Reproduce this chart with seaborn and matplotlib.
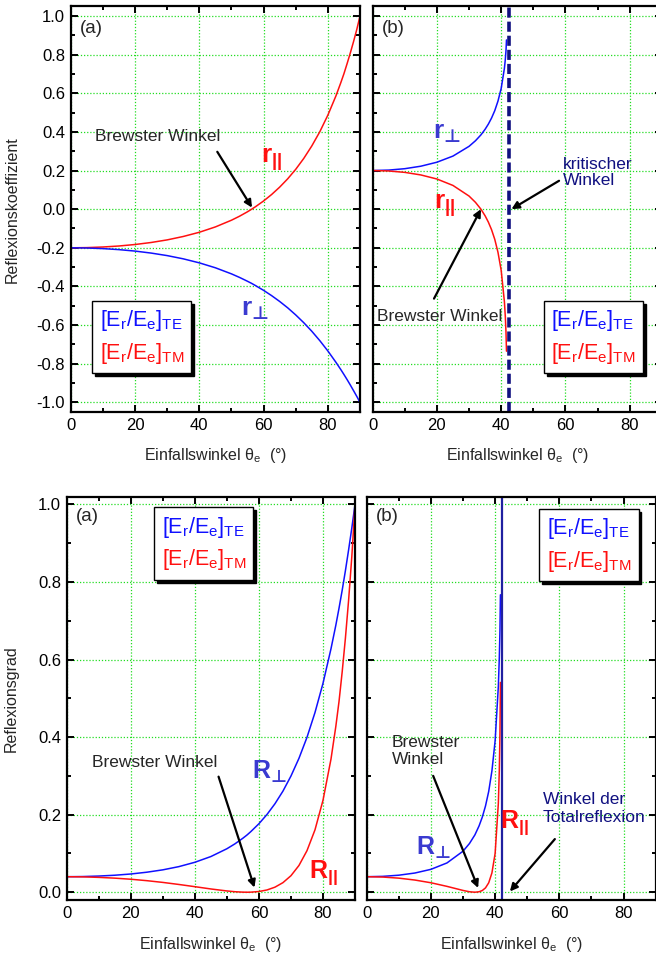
import matplotlib
matplotlib.use('Agg')
import matplotlib.pyplot as plt
import seaborn as sns
from matplotlib.lines import Line2D
from matplotlib.ticker import MultipleLocator, FuncFormatter

# Angles (deg) and values
# (a) external reflection, (b) internal reflection
ang_a = [0, 5, 10, 15, 20, 25, 30, 35, 40, 45, 50, 52.5, 55, 56.3, 57.5, 60, 62.5, 65, 67.5,
         70, 72.5, 75, 77.5, 80, 82.5, 84, 85, 86, 87, 88, 89, 90]
r_perp_a = [-0.2, -0.201, -0.2041, -0.2094, -0.2169, -0.2272, -0.2403, -0.2570, -0.2778, -0.3033,
            -0.3348, -0.3531, -0.3732, -0.3843, -0.3956, -0.4202, -0.4475, -0.4776, -0.5106,
            -0.5474, -0.5876, -0.6319, -0.6807, -0.7339, -0.7924, -0.8296, -0.8557, -0.8826,
            -0.9106, -0.9397, -0.9692, -1.0]
r_par_a = [-0.2, -0.199, -0.1958, -0.1906, -0.1829, -0.1725, -0.1590, -0.1414, -0.1196, -0.0919,
           -0.0572, -0.0366, -0.0134, 0.0, 0.0129, 0.0424, 0.0759, 0.1140, 0.1571,
           0.2063, 0.2627, 0.3272, 0.4010, 0.4868, 0.5860, 0.6536, 0.7012, 0.7543,
           0.8095, 0.8680, 0.9304, 1.0]
R_perp_a = [0.04, 0.0404, 0.0417, 0.0438, 0.0470, 0.0516, 0.0577, 0.0660, 0.0772, 0.0920,
            0.1121, 0.1247, 0.1393, 0.1477, 0.1565, 0.1766, 0.2003, 0.2281, 0.2607,
            0.2996, 0.3453, 0.3993, 0.4633, 0.5386, 0.6279, 0.6882, 0.7322, 0.7790,
            0.8292, 0.8830, 0.9393, 1.0]
R_par_a = [0.04, 0.0396, 0.0383, 0.0363, 0.0335, 0.0298, 0.0253, 0.0200, 0.0143, 0.0084,
           0.0033, 0.0013, 0.0002, 0.0, 0.0002, 0.0018, 0.0058, 0.0130, 0.0247,
           0.0426, 0.0690, 0.1071, 0.1608, 0.2370, 0.3434, 0.4272, 0.4917, 0.5690,
           0.6553, 0.7534, 0.8656, 1.0]

ang_b = [0, 5, 10, 15, 20, 25, 30, 32, 33.7, 35, 36, 37, 38, 39, 40, 41, 41.3, 41.5, 41.65]
r_perp_b = [0.2, 0.2023, 0.2095, 0.2224, 0.2430, 0.2748, 0.3252, 0.3542, 0.3846, 0.4136, 0.4401,
            0.4716, 0.5099, 0.5594, 0.6250, 0.7286, 0.7775, 0.8216, 0.876]
r_par_b = [0.2, 0.1977, 0.1905, 0.1772, 0.1562, 0.1228, 0.0679, 0.0353, 0.0, -0.0344, -0.0667,
           -0.1060, -0.1559, -0.2231, -0.3166, -0.4787, -0.5606, -0.6394, -0.735]
R_perp_b = [0.04, 0.0409, 0.0439, 0.0495, 0.0590, 0.0755, 0.1058, 0.1255, 0.1479, 0.1711, 0.1937,
            0.2224, 0.2600, 0.3129, 0.3906, 0.5309, 0.6045, 0.6750, 0.767]
R_par_b = [0.04, 0.0391, 0.0363, 0.0314, 0.0244, 0.0151, 0.0046, 0.0012, 0.0, 0.0012, 0.0044,
           0.0112, 0.0243, 0.0498, 0.1002, 0.2292, 0.3143, 0.4088, 0.541]

crit_top = 42.4   # kritischer Winkel (dashed line)
crit_bot = 42.2   # Winkel der Totalreflexion (solid line)

sns.set_style('ticks')
plt.rcParams['font.family'] = ['Liberation Sans', 'DejaVu Sans']
plt.rcParams['mathtext.fontset'] = 'custom'
plt.rcParams['mathtext.rm'] = 'Liberation Sans'
plt.rcParams['mathtext.it'] = 'Liberation Sans:italic'
plt.rcParams['mathtext.bf'] = 'Liberation Sans:bold'
plt.rcParams['mathtext.sf'] = 'DejaVu Sans:bold'
plt.rcParams['axes.unicode_minus'] = False

BLUE = '#1010ff'
RED = '#ff1010'
LBLUE = '#3a3ad0'
NAVY = '#101080'
GRID = '#22dd22'
XLABEL = r'Einfallswinkel $\mathrm{\theta_e}$  (°)'
TE = r'$\mathrm{[E_r/E_e]_{TE}}$'
TM = r'$\mathrm{[E_r/E_e]_{TM}}$'
R_PAR = r'$\mathbf{R}_{\mathbf{||}}$'
R_PERP = r'$\mathbf{R}_{\mathsf{⊥}}$'
r_PAR = r'$\mathbf{r}_{\mathbf{||}}$'
r_PERP = r'$\mathbf{r}_{\mathsf{⊥}}$'
ANN = 12.5


def style_axes(ax, ylim, ylabels=True):
    ax.set_xlim(0, 90)
    ax.set_ylim(*ylim)
    ax.xaxis.set_major_locator(MultipleLocator(20))
    ax.xaxis.set_minor_locator(MultipleLocator(10))
    ax.yaxis.set_major_locator(MultipleLocator(0.2))
    ax.yaxis.set_minor_locator(MultipleLocator(0.1))
    ax.yaxis.set_major_formatter(FuncFormatter(lambda v, p: '0.0' if abs(v) < 1e-9 else f'{v:.1f}'))
    ax.tick_params(which='both', direction='in', top=True, right=True, width=1.4,
                   labelsize=12, colors='black', pad=4)
    ax.tick_params(which='major', length=5)
    ax.tick_params(which='minor', length=3)
    if not ylabels:
        ax.tick_params(labelleft=False)
    ax.grid(True, which='major', color=GRID, ls=(0, (1, 1.5)), lw=0.9)
    ax.set_axisbelow(True)
    for s in ax.spines.values():
        s.set_linewidth(1.6)
        s.set_color('black')
        s.set_visible(True)


def te_tm_legend(ax, x, y):
    handles = [Line2D([], [], lw=0), Line2D([], [], lw=0)]
    leg = ax.legend(handles, [TE, TM], loc='upper left', bbox_to_anchor=(x, y),
                    borderaxespad=0, handlelength=0, handletextpad=0, fontsize=15.5,
                    frameon=True, fancybox=False, edgecolor='black', framealpha=1,
                    shadow={'color': 'black', 'alpha': 1}, labelcolor=[BLUE, RED],
                    borderpad=0.35, labelspacing=0.35)
    leg.get_frame().set_linewidth(1.0)


def arrow(ax, tail, head):
    ax.annotate('', xy=head, xytext=tail,
                arrowprops=dict(arrowstyle='-|>', color='black', lw=1.6,
                                mutation_scale=11, shrinkA=0, shrinkB=0))


fig = plt.figure(figsize=(6.56, 9.56), dpi=100)
ax1 = fig.add_axes([0.1078, 0.569, 0.441, 0.4244])
ax2 = fig.add_axes([0.568, 0.569, 0.441, 0.4244])
ax3 = fig.add_axes([0.1017, 0.0586, 0.4395, 0.4219])
ax4 = fig.add_axes([0.559, 0.0586, 0.4405, 0.4219])

# (a) Reflexionskoeffizient, external
sns.lineplot(x=ang_a, y=r_par_a, ax=ax1, color=RED, lw=1.1, estimator=None, sort=False)
sns.lineplot(x=ang_a, y=r_perp_a, ax=ax1, color=BLUE, lw=1.1, estimator=None, sort=False)
style_axes(ax1, (-1.05, 1.05))
ax1.set_ylabel('Reflexionskoeffizient', fontsize=11.5)
ax1.yaxis.set_label_coords(-0.176, 0.5)
ax1.set_xlabel(XLABEL, fontsize=11.5)
ax1.xaxis.set_label_coords(0.5, -0.084)
ax1.text(0.032, 0.946, '(a)', transform=ax1.transAxes, fontsize=13.5, va='center')
ax1.text(7.5, 0.375, 'Brewster Winkel', fontsize=ANN, va='center')
arrow(ax1, (45.6, 0.297), (56.4, 0.008))
ax1.text(59.2, 0.256, r_PAR, color=RED, fontsize=19, va='center')
ax1.text(52.9, -0.52, r_PERP, color=LBLUE, fontsize=19, va='center')
te_tm_legend(ax1, 0.074, 0.274)

# (b) Reflexionskoeffizient, internal
sns.lineplot(x=ang_b, y=r_perp_b, ax=ax2, color=BLUE, lw=1.1, estimator=None, sort=False)
sns.lineplot(x=ang_b, y=r_par_b, ax=ax2, color=RED, lw=1.1, estimator=None, sort=False)
ax2.axvline(crit_top, color=NAVY, lw=2.6, ls=(0, (2.8, 1.1)))
style_axes(ax2, (-1.05, 1.05), ylabels=False)
ax2.set_ylabel('')
ax2.set_xlabel(XLABEL, fontsize=11.5)
ax2.xaxis.set_label_coords(0.5, -0.084)
ax2.text(0.031, 0.946, '(b)', transform=ax2.transAxes, fontsize=13.5, va='center')
ax2.text(18.7, 0.395, r_PERP, color=LBLUE, fontsize=19, va='center')
ax2.text(19.1, 0.02, r_PAR, color=RED, fontsize=19, va='center')
ax2.text(1.3, -0.556, 'Brewster Winkel', fontsize=ANN, va='center')
arrow(ax2, (19.1, -0.463), (33.7, 0.0))
ax2.text(59.3, 0.19, 'kritischer\nWinkel', color=NAVY, fontsize=ANN, va='center',
         linespacing=1.15)
arrow(ax2, (58.0, 0.147), (43.2, 0.0))
te_tm_legend(ax2, 0.592, 0.274)

# (a) Reflexionsgrad, external
sns.lineplot(x=ang_a, y=R_perp_a, ax=ax3, color=BLUE, lw=1.1, estimator=None, sort=False)
sns.lineplot(x=ang_a, y=R_par_a, ax=ax3, color=RED, lw=1.1, estimator=None, sort=False)
style_axes(ax3, (-0.02, 1.02))
ax3.set_ylabel('Reflexionsgrad', fontsize=11.5)
ax3.yaxis.set_label_coords(-0.165, 0.5)
ax3.set_xlabel(XLABEL, fontsize=11.5)
ax3.xaxis.set_label_coords(0.5, -0.087)
ax3.text(0.032, 0.95, '(a)', transform=ax3.transAxes, fontsize=13.5, va='center')
ax3.text(7.9, 0.334, 'Brewster Winkel', fontsize=ANN, va='center')
arrow(ax3, (47.4, 0.298), (58.6, 0.012))
ax3.text(57.9, 0.31, R_PERP, color=LBLUE, fontsize=18, va='center')
ax3.text(75.7, 0.05, R_PAR, color=RED, fontsize=18, va='center')
te_tm_legend(ax3, 0.303, 0.974)

# (b) Reflexionsgrad, internal
sns.lineplot(x=ang_b, y=R_perp_b, ax=ax4, color=BLUE, lw=1.1, estimator=None, sort=False)
sns.lineplot(x=ang_b, y=R_par_b, ax=ax4, color=RED, lw=1.1, estimator=None, sort=False)
ax4.axvline(crit_bot, color='#2020a0', lw=1.6)
style_axes(ax4, (-0.02, 1.02), ylabels=False)
ax4.set_ylabel('')
ax4.set_xlabel(XLABEL, fontsize=11.5)
ax4.xaxis.set_label_coords(0.5, -0.087)
ax4.text(0.032, 0.95, '(b)', transform=ax4.transAxes, fontsize=13.5, va='center')
ax4.text(7.8, 0.364, 'Brewster\nWinkel', fontsize=ANN, va='center', linespacing=1.2)
arrow(ax4, (20.7, 0.300), (34.7, 0.011))
ax4.text(15.3, 0.115, R_PERP, color=LBLUE, fontsize=18, va='center')
ax4.text(41.5, 0.18, R_PAR, color=RED, fontsize=18, va='center')
ax4.text(54.9, 0.216, 'Winkel der\nTotalreflexion', color=NAVY, fontsize=ANN, va='center',
         linespacing=1.2)
arrow(ax4, (58.6, 0.137), (44.6, 0.002))
te_tm_legend(ax4, 0.597, 0.970)

fig.savefig('out.png', dpi=100)
